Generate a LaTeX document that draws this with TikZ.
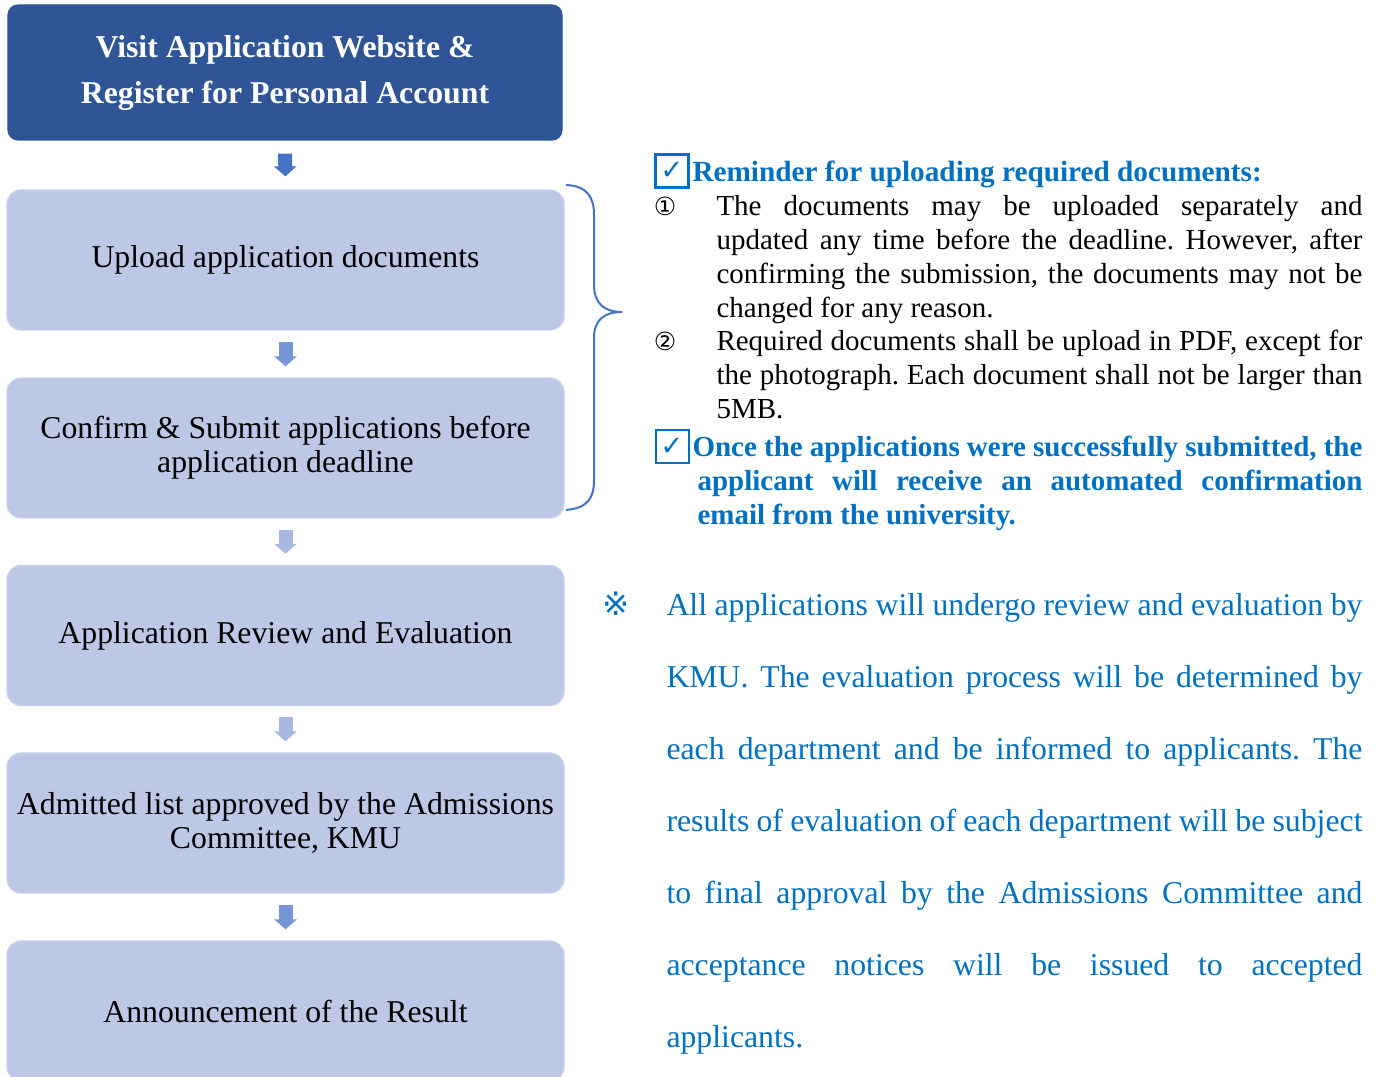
\documentclass[tikz,border=0pt]{standalone}
\usepackage{fontspec}
\setmainfont{Liberation Serif}
\newfontfamily\symfont{DejaVu Sans}
\usepackage{tikz}
\usetikzlibrary{arrows.meta}
\definecolor{darkbox}{HTML}{2F5597}
\definecolor{lightbox}{HTML}{BDC7E6}
\definecolor{lightedge}{HTML}{C9D1EC}
\definecolor{noteblue}{HTML}{0070C0}
\definecolor{bracecol}{HTML}{4472C4}
\definecolor{midarrow}{HTML}{7794D4}
\definecolor{palearrow}{HTML}{A8B8E2}
\tikzset{
  stepbox/.style={rounded corners=5.6pt, fill=lightbox, draw=lightedge, line width=0.5pt, minimum width=222.8pt, minimum height=56pt, inner sep=0pt, align=center, font=\fontsize{12.7}{13.6}\selectfont},
  flowarrow/.style={draw=#1, line width=5.6pt, -{Triangle[length=4pt, width=8.8pt]}},
  checkbox/.style={draw=noteblue, minimum size=13.2pt, inner sep=0pt, text=noteblue},
  notetext/.style={anchor=base west, inner sep=0pt, align=left, font=\fontsize{11.6}{13.6}\selectfont},
  numlabel/.style={anchor=base, inner sep=0pt, font=\symfont\fontsize{10}{10}\selectfont},
}
% justified line: font spaces, stretched to the given width
\newcommand{\fullline}[2][258.4pt]{\makebox[#1][s]{\spaceskip=0pt\xspaceskip=0pt #2}}
\newcommand{\lastline}[1]{{\spaceskip=0pt\xspaceskip=0pt #1}}
\frenchspacing

\begin{document}
\begin{tikzpicture}[x=0.4pt, y=-0.4pt]
\useasboundingbox (0,0) rectangle (1382,1077);
% steps
\node[stepbox, fill=darkbox, draw=darkbox, rounded corners=4pt, minimum width=221.6pt, minimum height=54pt, text=white, font=\bfseries\fontsize{12.7}{18.4}\selectfont] (visit) at (285,72.5) {Visit Application Website \&\\Register for Personal Account};
\node[stepbox] (upload) at (285.5,260) {Upload application documents};
\node[stepbox] (confirm) at (285.5,448) {Confirm \& Submit applications before\\application deadline};
\node[stepbox] (review) at (285.5,635.5) {Application Review and Evaluation};
\node[stepbox] (admit) at (285.5,823) {Admitted list approved by the Admissions\\Committee, KMU};
\node[stepbox] (announce) at (285.5,1011) {Announcement of the Result};
% arrows
\draw[flowarrow=bracecol, shorten <=5.2pt, shorten >=5.2pt] (visit.south) -- (upload.north);
\draw[flowarrow=midarrow, shorten <=4.4pt, shorten >=4.4pt] (upload.south) -- (confirm.north);
\draw[flowarrow=palearrow, shorten <=4.4pt, shorten >=4.4pt] (confirm.south) -- (review.north);
\draw[flowarrow=palearrow, shorten <=4.4pt, shorten >=4.4pt] (review.south) -- (admit.north);
\draw[flowarrow=midarrow, shorten <=4.4pt, shorten >=4.4pt] (admit.south) -- (announce.north);
% brace
\draw[bracecol, line width=0.8pt] (566,185) .. controls (588,186) and (594,198) .. (594,215) -- (594,285) .. controls (594,303) and (604,312) .. (622,312) .. controls (604,312) and (594,320) .. (594,338) -- (594,480) .. controls (594,498) and (588,508) .. (566,510);
% reminder
\node[checkbox, line width=1.2pt, font=\symfont\bfseries\fontsize{11}{11}\selectfont] (chkone) at (672,171) {✓};
\node[notetext, text=noteblue, font=\bfseries\fontsize{11.7}{13.6}\selectfont] (remhead) at (692,182) {Reminder for uploading required documents:};
\node[numlabel] (numone) at (665,216) {①};
\node[notetext, text width=258.4pt] (itemone) at (716,216) {\fullline{The documents may be uploaded separately and}\\\fullline{updated any time before the deadline. However, after}\\\fullline{confirming the submission, the documents may not be}\\\lastline{changed for any reason.}};
\node[numlabel] (numtwo) at (665,351) {②};
\node[notetext, text width=258.4pt] (itemtwo) at (716,351) {\fullline{Required documents shall be upload in PDF, except for}\\\fullline{the photograph. Each document shall not be larger than}\\5MB.};
\node[checkbox, line width=0.8pt, font=\symfont\fontsize{11}{11}\selectfont] (chktwo) at (672,447) {✓};
\node[notetext, text width=268pt, text=noteblue, font=\bfseries\fontsize{11.6}{13.6}\selectfont] (once) at (692,457) {\fullline[268pt]{Once the applications were successfully submitted, the}\\\hspace*{2pt}\fullline[266pt]{applicant will receive an automated confirmation}\\\hspace*{2pt}\lastline{email from the university.}};
% evaluation note
\node[anchor=base, inner sep=0pt, text=noteblue, font=\symfont\fontsize{13}{13}\selectfont] (refmark) at (616,616) {※};
\node[notetext, text width=278.4pt, text=noteblue, font=\fontsize{12.7}{28.8}\selectfont] (evalnote) at (666,616) {\fullline[278.4pt]{All applications will undergo review and evaluation by}\\\fullline[278.4pt]{KMU. The evaluation process will be determined by}\\\fullline[278.4pt]{each department and be informed to applicants. The}\\\fullline[278.4pt]{results of evaluation of each department will be subject}\\\fullline[278.4pt]{to final approval by the Admissions Committee and}\\\fullline[278.4pt]{acceptance notices will be issued to accepted}\\applicants.};
\end{tikzpicture}
\end{document}
